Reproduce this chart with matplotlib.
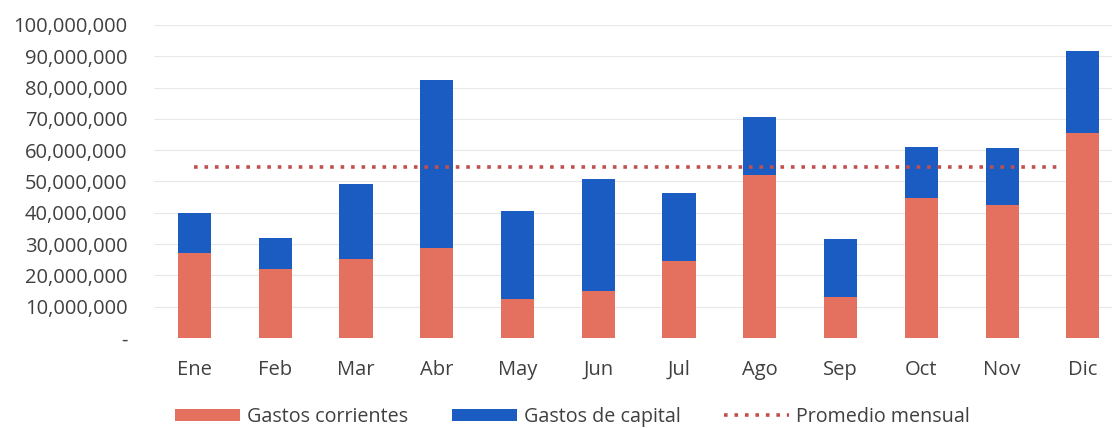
import numpy as np
import matplotlib.pyplot as plt
from matplotlib.ticker import FuncFormatter

meses = ['Ene', 'Feb', 'Mar', 'Abr', 'May', 'Jun', 'Jul', 'Ago', 'Sep', 'Oct', 'Nov', 'Dic']
corrientes = [27.2, 22.0, 25.2, 28.8, 12.5, 15.0, 24.6, 52.0, 13.1, 44.7, 42.5, 65.5]
capital = [12.8, 10.0, 24.0, 53.6, 28.1, 35.8, 21.7, 18.6, 18.5, 16.3, 18.2, 26.2]

corrientes = np.array(corrientes) * 1e6
capital = np.array(capital) * 1e6
promedio = (corrientes + capital).mean()

plt.rcParams['font.family'] = ['Open Sans', 'DejaVu Sans']
txt = '#404040'
rojo = '#E4705F'
azul = '#1B5CC2'

fig = plt.figure(figsize=(11.12, 4.28), dpi=100)
ax = fig.add_axes([0.1385, 0.2103, 0.8615, 0.7313])

x = np.arange(len(meses))
b1 = ax.bar(x, corrientes, width=0.41, color=rojo, label='Gastos corrientes', zorder=2)
b2 = ax.bar(x, capital, width=0.41, bottom=corrientes, color=azul, label='Gastos de capital', zorder=2)
ln, = ax.plot([x[0], x[-1] - 0.25], [promedio, promedio], color='#C0504D', linestyle=(0, (1, 1.9)),
              linewidth=2.6, label='Promedio mensual', zorder=3)

# el grafico original esta recortado por la derecha
ax.set_xlim(-0.5, 11.36)
ax.set_ylim(0, 100e6)
ax.set_yticks(np.arange(0, 100e6 + 1, 10e6))
ax.yaxis.set_major_formatter(FuncFormatter(lambda v, p: '-' if v == 0 else f'{v:,.0f}'))
ax.set_xticks(x)
ax.set_xticklabels(meses)
ax.tick_params(length=0, labelsize=14.5, labelcolor=txt)
ax.tick_params(axis='x', pad=16)
ax.tick_params(axis='y', pad=19)
ax.grid(axis='y', color='#E8E8E8', linewidth=0.8, zorder=0)
for s in ax.spines.values():
    s.set_visible(False)

fig.legend([b1, b2, ln], ['Gastos corrientes', 'Gastos de capital', 'Promedio mensual'],
           loc='center', bbox_to_anchor=(0.515, 0.026), ncol=3, frameon=False,
           fontsize=14.2, labelcolor=txt, handlelength=3.3, handleheight=0.6,
           handletextpad=0.35, columnspacing=2.2)

fig.savefig('out.png', dpi=100)
